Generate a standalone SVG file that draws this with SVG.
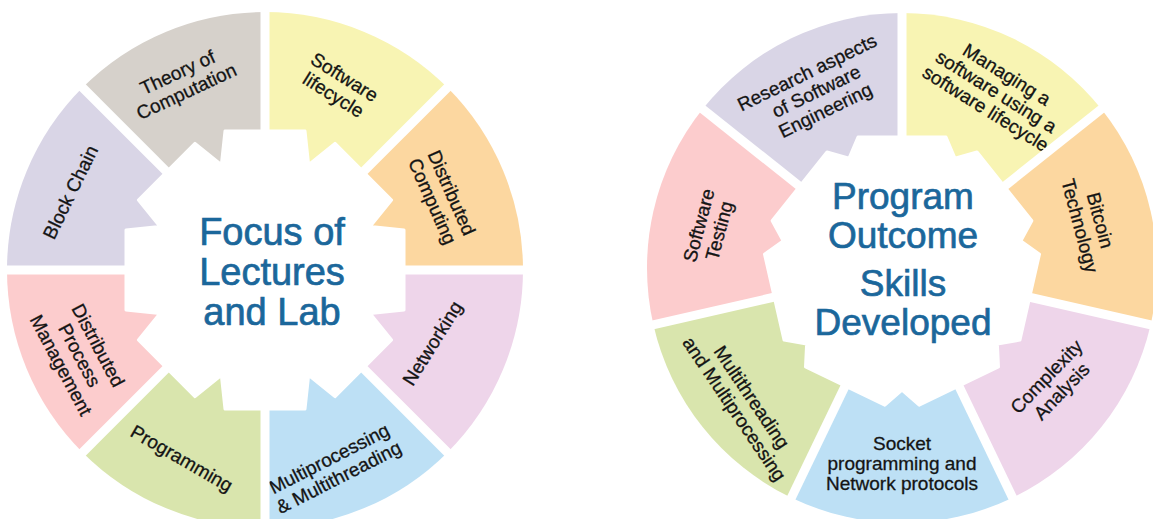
<svg xmlns="http://www.w3.org/2000/svg" width="1153" height="519" viewBox="0 0 1153 519">
<style>
.lbl{font-family:"Liberation Sans",Arial,sans-serif;font-size:19px;fill:#141414;stroke:#141414;stroke-width:0.3;text-anchor:middle}
.ctr{font-family:"Liberation Sans",Arial,sans-serif;fill:#1b679b;stroke:#1b679b;stroke-width:0.7;text-anchor:middle}
.gap{stroke:#fff;stroke-width:9;fill:none}
.gear{fill:#fff;stroke:#fff;stroke-width:3;stroke-linejoin:round}
.gray{fill:#d6d1cb}.yellow{fill:#f8f4b3}.orange{fill:#fcd7a0}.lilac{fill:#eed5ea}
.blue{fill:#bde0f5}.green{fill:#d9e5ad}.pink{fill:#fccccd}.lav{fill:#d9d5e6}
</style>
<rect width="1153" height="519" fill="#fff"/>
<g id="left-wheel">
<g id="theory"><path class="gray" d="M265,270 L82.57,87.57 A258,258 0 0 1 265,12 Z"/>
<text class="lbl" transform="translate(182,82) rotate(-25)"><tspan x="0" y="-4">Theory of</tspan><tspan x="0" y="17">Computation</tspan></text></g>
<g id="sw-lifecycle"><path class="yellow" d="M265,270 L265,12 A258,258 0 0 1 447.43,87.57 Z"/>
<text class="lbl" transform="translate(339,86) rotate(32)"><tspan x="0" y="-4">Software</tspan><tspan x="0" y="17">lifecycle</tspan></text></g>
<g id="dist-computing"><path class="orange" d="M265,270 L447.43,87.57 A258,258 0 0 1 523,270 Z"/>
<text class="lbl" transform="translate(442,197) rotate(66)"><tspan x="0" y="-4">Distributed</tspan><tspan x="0" y="17">Computing</tspan></text></g>
<g id="networking"><path class="lilac" d="M265,270 L523,270 A258,258 0 0 1 447.43,452.43 Z"/>
<text class="lbl" transform="translate(432,343) rotate(-58)"><tspan x="0" y="7">Networking</tspan></text></g>
<g id="multiprocessing"><path class="blue" d="M265,270 L447.43,452.43 A258,258 0 0 1 265,528 Z"/>
<text class="lbl" transform="translate(334,468) rotate(-27)"><tspan x="0" y="-4">Multiprocessing</tspan><tspan x="0" y="17">&amp; Multithreading</tspan></text></g>
<g id="programming"><path class="green" d="M265,270 L265,528 A258,258 0 0 1 82.57,452.43 Z"/>
<text class="lbl" transform="translate(182,458) rotate(30)"><tspan x="0" y="7">Programming</tspan></text></g>
<g id="dist-process"><path class="pink" d="M265,270 L82.57,452.43 A258,258 0 0 1 7,270 Z"/>
<text class="lbl" transform="translate(80,355) rotate(62)"><tspan x="0" y="-14">Distributed</tspan><tspan x="0" y="7">Process</tspan><tspan x="0" y="28">Management</tspan></text></g>
<g id="blockchain"><path class="lav" d="M265,270 L7,270 A258,258 0 0 1 82.57,87.57 Z"/>
<text class="lbl" transform="translate(70,192) rotate(-64)"><tspan x="0" y="7">Block Chain</tspan></text></g>
<g id="left-gaps">
<line class="gap" x1="0" y1="270" x2="530" y2="270"/>
<line class="gap" x1="265" y1="0" x2="265" y2="519"/>
<line class="gap" x1="75" y1="80" x2="455" y2="460"/>
<line class="gap" x1="455" y1="80" x2="75" y2="460"/>
</g>
<g id="left-center">
<polygon class="gear" points="404,230 404,310 370.32,313.63 391.57,340 335,396.57 308.63,375.32 305,409 225,409 221.37,375.32 195,396.57 138.43,340 159.68,313.63 126,310 126,230 159.68,226.37 138.43,200 195,143.43 221.37,164.68 225,131 305,131 308.63,164.68 335,143.43 391.57,200 370.32,226.37"/>
<text class="ctr" font-size="38"><tspan x="272" y="245">Focus of</tspan><tspan x="272" y="285">Lectures</tspan><tspan x="272" y="325">and Lab</tspan></text>
</g>
</g>
<g id="right-wheel">
<g id="research"><path class="lav" d="M902,268 L702.63,109.01 A255,255 0 0 1 902,13 Z"/>
<text class="lbl" transform="translate(816,91) rotate(-26)"><tspan x="0" y="-14">Research aspects</tspan><tspan x="0" y="7">of Software</tspan><tspan x="0" y="28">Engineering</tspan></text></g>
<g id="managing"><path class="yellow" d="M902,268 L902,13 A255,255 0 0 1 1101.37,109.01 Z"/>
<text class="lbl" font-size="18" transform="translate(996,92) rotate(32)"><tspan x="0" y="-14">Managing a</tspan><tspan x="0" y="6">software using a</tspan><tspan x="0" y="26">software lifecycle</tspan></text></g>
<g id="bitcoin"><path class="orange" d="M902,268 L1101.37,109.01 A255,255 0 0 1 1150.61,324.74 Z"/>
<text class="lbl" transform="translate(1090,223) rotate(75)"><tspan x="0" y="-4">Bitcoin</tspan><tspan x="0" y="17">Technology</tspan></text></g>
<g id="complexity"><path class="lilac" d="M902,268 L1150.61,324.74 A255,255 0 0 1 1012.64,497.75 Z"/>
<text class="lbl" transform="translate(1054,384) rotate(-46)"><tspan x="0" y="-4">Complexity</tspan><tspan x="0" y="17">Analysis</tspan></text></g>
<g id="socket"><path class="blue" d="M902,268 L1012.64,497.75 A255,255 0 0 1 791.36,497.75 Z"/>
<text class="lbl" font-size="18"><tspan x="902" y="450">Socket</tspan><tspan x="902" y="470">programming and</tspan><tspan x="902" y="490">Network protocols</tspan></text></g>
<g id="multithreading"><path class="green" d="M902,268 L791.36,497.75 A255,255 0 0 1 653.39,324.74 Z"/>
<text class="lbl" transform="translate(743,403) rotate(56)"><tspan x="0" y="-4">Multithreading</tspan><tspan x="0" y="17">and Multiprocessing</tspan></text></g>
<g id="testing"><path class="pink" d="M902,268 L653.39,324.74 A255,255 0 0 1 702.63,109.01 Z"/>
<text class="lbl" transform="translate(709,228) rotate(-75)"><tspan x="0" y="-4">Software</tspan><tspan x="0" y="17">Testing</tspan></text></g>
<g id="right-gaps">
<line class="gap" x1="902" y1="268" x2="902" y2="-2"/>
<line class="gap" x1="902" y1="268" x2="1113.09" y2="99.66"/>
<line class="gap" x1="902" y1="268" x2="1165.23" y2="328.08"/>
<line class="gap" x1="902" y1="268" x2="1019.15" y2="511.26"/>
<line class="gap" x1="902" y1="268" x2="784.85" y2="511.26"/>
<line class="gap" x1="902" y1="268" x2="638.77" y2="328.08"/>
<line class="gap" x1="902" y1="268" x2="690.91" y2="99.66"/>
</g>
<g id="right-center">
<polygon class="gear" points="858,137 946,137 954.93,158.08 976.99,151.92 1031.85,220.72 1020.94,240.85 1039.51,254.25 1019.93,340.05 997.38,344.07 998.48,366.94 919.2,405.12 902,390 884.8,405.12 805.52,366.94 806.62,344.07 784.07,340.05 764.49,254.25 783.06,240.85 772.15,220.72 827.01,151.92 849.07,158.08"/>
<text class="ctr" font-size="37"><tspan x="903" y="209">Program</tspan><tspan x="903" y="248">Outcome</tspan><tspan x="903" y="296">Skills</tspan><tspan x="903" y="335">Developed</tspan></text>
</g>
</g>
</svg>
